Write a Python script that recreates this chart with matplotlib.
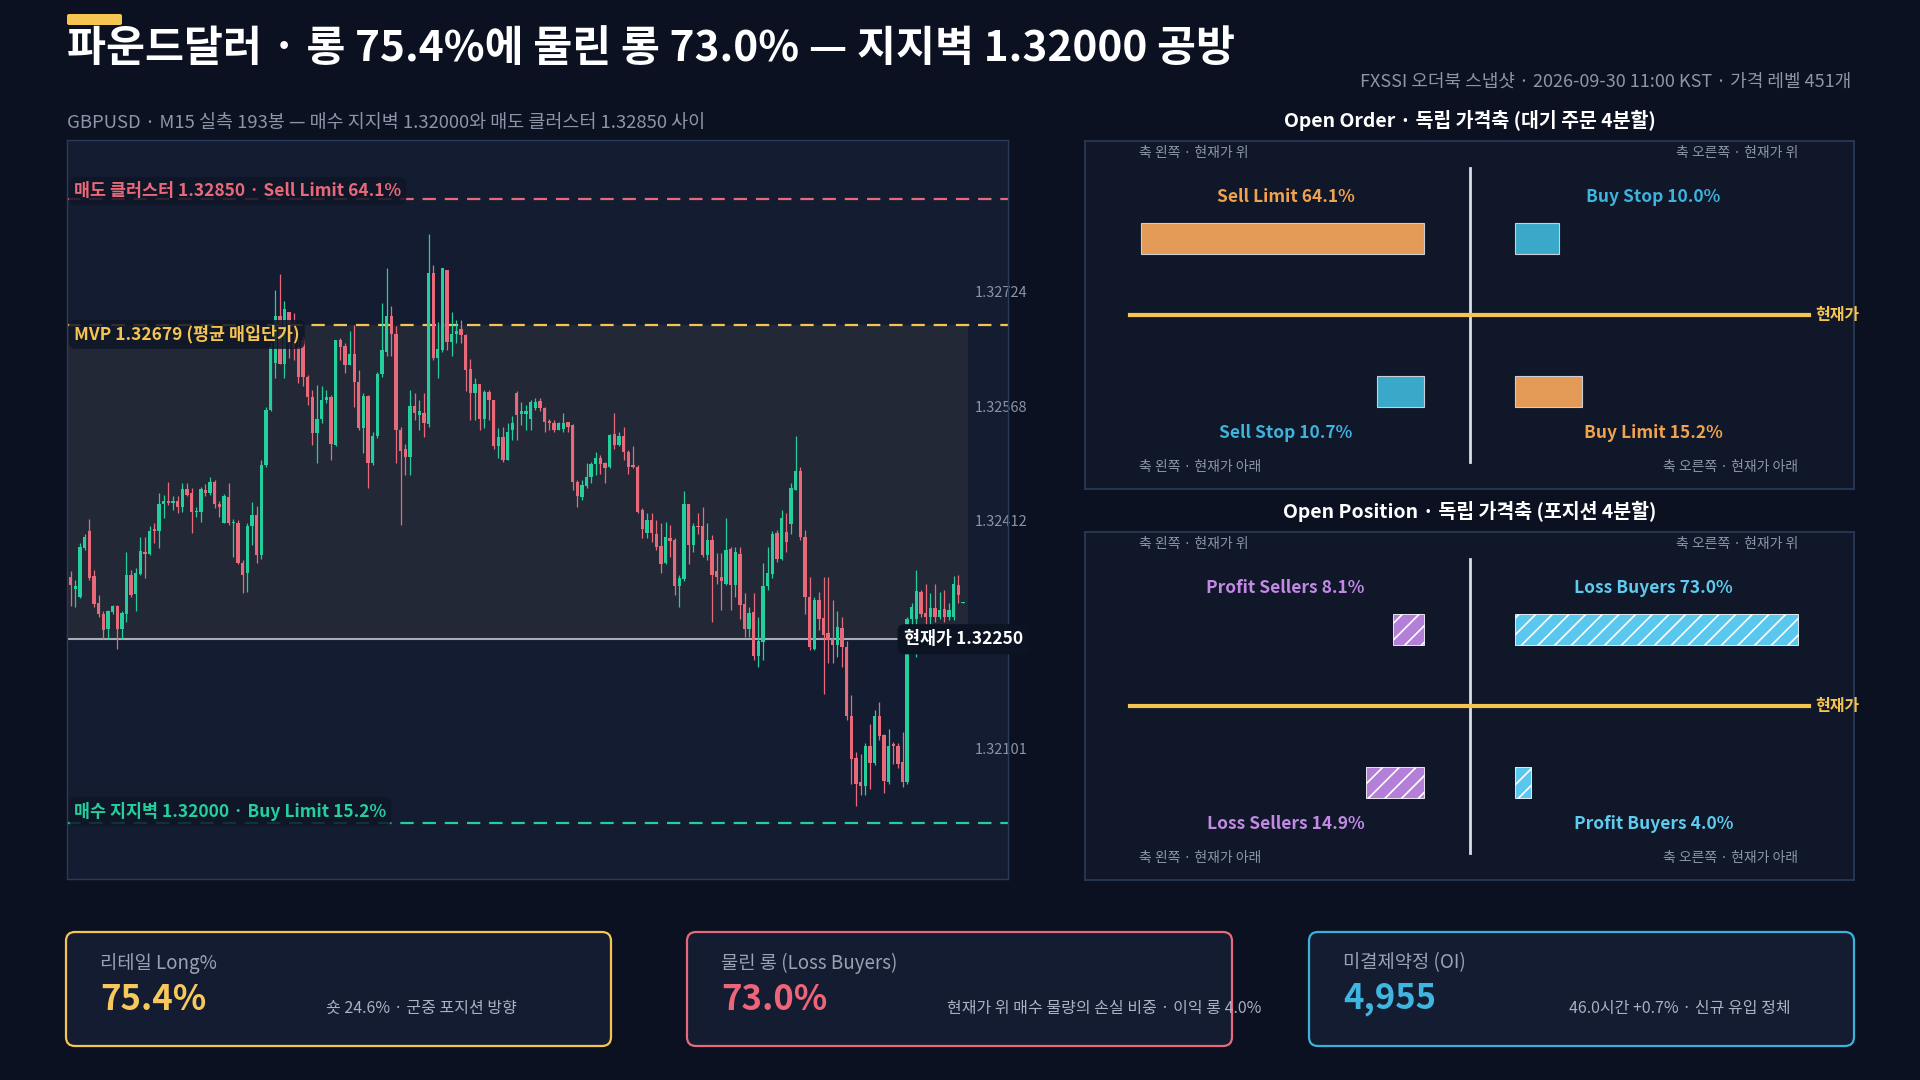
import numpy as np
import matplotlib
matplotlib.use('Agg')
import matplotlib.pyplot as plt
from matplotlib.patches import FancyBboxPatch
from matplotlib.transforms import IdentityTransform, blended_transform_factory

plt.rcParams['font.family'] = ['Noto Sans CJK KR', 'DejaVu Sans']
plt.rcParams['hatch.linewidth'] = 1.2
plt.rcParams['axes.unicode_minus'] = False

# ---- 데이터 (가격은 1.32000 기준 포인트 단위, 1pt = 0.00001) ----
BASE = 1.32
opens_pt = [
    335, 318, 308, 375, 398, 336, 299, 284, 264, 287,
    295, 264, 284, 338, 312, 339, 369, 366, 400, 397,
    435, 439, 436, 438, 430, 455, 449, 423, 423, 453,
    450, 465, 434, 409, 444, 408, 409, 354, 340, 404,
    419, 365, 488, 563, 627, 691, 626, 697, 654, 649,
    658, 608, 581, 532, 550, 577, 581, 515, 658, 650,
    624, 639, 601, 538, 582, 490, 527, 612, 642, 691,
    667, 536, 510, 498, 568, 556, 559, 544, 749, 633,
    645, 753, 656, 667, 673, 665, 619, 586, 598, 550,
    587, 577, 513, 526, 495, 535, 586, 557, 557, 550,
    566, 575, 565, 548, 545, 536, 537, 546, 542, 465,
    444, 459, 472, 489, 497, 490, 485, 530, 515, 527,
    505, 488, 485, 426, 395, 413, 394, 377, 354, 388,
    385, 322, 332, 434, 378, 404, 404, 365, 386, 343,
    335, 326, 373, 324, 366, 298, 264, 287, 227, 246,
    322, 339, 395, 360, 396, 407, 454, 479, 389, 308,
    237, 303, 279, 258, 250, 242, 266, 240, 146, 88,
    55, 50, 105, 81, 146, 119, 55, 107, 105, 82,
    55, 278, 278, 314, 286, 280, 293, 281, 291, 280,
    280, 324, 299]
highs_pt = [
    343, 331, 381, 394, 414, 345, 310, 288, 290, 297,
    297, 288, 369, 344, 347, 389, 390, 404, 409, 449,
    447, 464, 445, 445, 463, 463, 456, 431, 458, 462,
    472, 467, 438, 448, 463, 414, 413, 358, 408, 437,
    432, 495, 567, 654, 727, 748, 711, 697, 695, 658,
    663, 611, 590, 597, 595, 590, 583, 658, 661, 654,
    671, 679, 617, 586, 583, 533, 615, 709, 757, 705,
    677, 540, 517, 590, 586, 576, 586, 803, 761, 683,
    756, 754, 697, 686, 686, 667, 632, 606, 590, 590,
    590, 577, 538, 540, 545, 554, 588, 574, 570, 577,
    579, 579, 567, 551, 549, 547, 558, 547, 544, 467,
    467, 490, 492, 506, 501, 492, 530, 558, 533, 540,
    508, 513, 488, 429, 422, 422, 413, 408, 410, 406,
    388, 338, 452, 435, 408, 422, 431, 408, 392, 367,
    367, 415, 376, 376, 376, 313, 294, 313, 281, 354,
    376, 397, 399, 426, 422, 463, 527, 485, 399, 335,
    308, 315, 335, 335, 303, 288, 281, 247, 174, 96,
    94, 108, 135, 153, 165, 121, 128, 110, 108, 124,
    281, 299, 344, 317, 326, 313, 326, 315, 317, 299,
    336, 338, 301]
lows_pt = [
    295, 294, 306, 372, 331, 294, 281, 250, 251, 285,
    237, 251, 274, 308, 289, 338, 334, 365, 381, 374,
    416, 433, 426, 422, 424, 445, 395, 417, 410, 445,
    447, 429, 417, 408, 406, 362, 353, 313, 315, 379,
    354, 360, 485, 561, 606, 626, 606, 633, 631, 599,
    595, 570, 515, 490, 545, 572, 495, 514, 631, 613,
    624, 567, 535, 504, 456, 488, 524, 608, 636, 636,
    490, 406, 474, 474, 549, 535, 526, 540, 631, 606,
    642, 645, 636, 654, 654, 588, 549, 549, 535, 538,
    549, 509, 497, 492, 494, 522, 522, 542, 535, 535,
    563, 561, 533, 535, 533, 535, 533, 533, 454, 430,
    440, 457, 463, 474, 476, 463, 483, 510, 513, 495,
    476, 484, 422, 388, 388, 383, 372, 340, 353, 362,
    310, 294, 329, 353, 369, 394, 362, 358, 274, 326,
    290, 324, 290, 308, 278, 253, 253, 222, 212, 222,
    317, 333, 356, 358, 369, 394, 454, 385, 285, 235,
    235, 262, 176, 217, 217, 226, 212, 140, 53, 22,
    37, 37, 46, 78, 112, 40, 53, 80, 74, 49,
    53, 253, 226, 281, 253, 247, 274, 278, 274, 276,
    276, 299, 299]
closes_pt = [
    324, 323, 376, 389, 334, 298, 284, 263, 288, 295,
    264, 286, 338, 310, 340, 370, 366, 398, 397, 434,
    438, 436, 439, 430, 455, 447, 423, 425, 455, 449,
    465, 434, 431, 446, 408, 410, 354, 338, 405, 419,
    365, 488, 563, 649, 691, 626, 700, 654, 647, 608,
    608, 581, 532, 550, 577, 581, 517, 658, 648, 624,
    639, 601, 538, 582, 490, 527, 612, 644, 691, 667,
    535, 507, 499, 568, 559, 562, 545, 749, 633, 646,
    756, 656, 667, 670, 665, 617, 586, 598, 550, 587,
    577, 513, 526, 495, 533, 545, 556, 561, 561, 573,
    574, 565, 547, 545, 535, 545, 545, 540, 464, 445,
    460, 472, 489, 497, 489, 483, 529, 515, 527, 505,
    485, 485, 424, 400, 413, 395, 376, 353, 389, 384,
    323, 334, 434, 378, 404, 403, 365, 385, 338, 335,
    329, 372, 324, 369, 297, 264, 286, 227, 247, 323,
    340, 394, 359, 415, 383, 456, 479, 389, 307, 240,
    303, 277, 256, 249, 242, 267, 239, 145, 87, 53,
    50, 104, 81, 146, 118, 57, 105, 104, 80, 55,
    278, 294, 316, 284, 280, 293, 280, 290, 280, 290,
    325, 310, 301]

sell_cluster = 1.32850
mvp = 1.32679
current_price = 1.32250
buy_wall = 1.32000
price_ticks = [1.32101, 1.32412, 1.32568, 1.32724]

order_labels = ['Sell Limit', 'Buy Stop', 'Sell Stop', 'Buy Limit']
order_values = [64.1, 10.0, 10.7, 15.2]
position_labels = ['Profit Sellers', 'Loss Buyers', 'Loss Sellers', 'Profit Buyers']
position_values = [8.1, 73.0, 14.9, 4.0]
corner_labels = ['축 왼쪽 · 현재가 위', '축 오른쪽 · 현재가 위',
                 '축 왼쪽 · 현재가 아래', '축 오른쪽 · 현재가 아래']

card_titles = ['리테일 Long%', '물린 롱 (Loss Buyers)', '미결제약정 (OI)']
card_values = ['75.4%', '73.0%', '4,955']
card_notes = ['숏 24.6% · 군중 포지션 방향',
              '현재가 위 매수 물량의 손실 비중 · 이익 롱 4.0%',
              '46.0시간 +0.7% · 신규 유입 정체']

# ---- 색상 ----
BG = '#0b1120'
AX_BG = '#131c31'
SHADE = '#222836'
PANEL_BG = '#0f1729'
BORDER = '#2a3a5a'
GREEN = '#25cf9d'
RED = '#e8697a'
YELLOW = '#f5c451'
ORANGE_BAR, ORANGE_TXT = '#e39a57', '#f0a24e'
TEAL_BAR, TEAL_TXT = '#3aa9c9', '#3db3dd'
PURPLE_BAR, PURPLE_TXT = '#b47fd8', '#c489e6'
SKY_BAR, SKY_TXT = '#5ac8ee', '#5fcbf0'

W, H = 1920, 1080
fig = plt.figure(figsize=(19.2, 10.8), dpi=100)
fig.patch.set_facecolor(BG)


def fx(x):
    return x / W


def fy(y):
    return 1 - y / H


# ---- 제목 ----
fig.add_artist(FancyBboxPatch((67, H - 25), 55, 11, boxstyle='round,pad=0,rounding_size=2',
                              transform=IdentityTransform(), fc=YELLOW, ec='none'))
fig.text(fx(67), fy(49), '파운드달러 · 롱 75.4%에 물린 롱 73.0% — 지지벽 1.32000 공방',
         color='white', fontsize=30.5, fontweight='bold', va='center', ha='left')
fig.text(fx(1851), fy(82), 'FXSSI 오더북 스냅샷 · 2026-09-30 11:00 KST · 가격 레벨 451개',
         color='#8d95a8', fontsize=13, va='center', ha='right')
fig.text(fx(67), fy(123), 'GBPUSD · M15 실측 193봉 — 매수 지지벽 1.32000와 매도 클러스터 1.32850 사이',
         color='#8d95a8', fontsize=13.3, va='center', ha='left')

# ---- 캔들 차트 ----
ax = fig.add_axes([fx(67), fy(879), 941 / W, 739 / H])
ax.set_facecolor(AX_BG)
o = BASE + np.array(opens_pt) / 1e5
h = BASE + np.array(highs_pt) / 1e5
l = BASE + np.array(lows_pt) / 1e5
c = BASE + np.array(closes_pt) / 1e5
n = len(c)
x = np.arange(n)
cols = np.where(c >= o, GREEN, RED)

ax.fill_between([-0.8, n], current_price, mvp, color=SHADE, lw=0, zorder=0)
ax.vlines(x, l, h, colors=cols, lw=0.9, zorder=2)
ax.bar(x, np.maximum(np.abs(c - o), 0.000005), bottom=np.minimum(o, c), width=0.72,
       color=cols, lw=0, zorder=2)

ax.axhline(sell_cluster, color=RED, lw=1.6, ls=(0, (6, 4)), zorder=1.5)
ax.axhline(mvp, color=YELLOW, lw=1.6, ls=(0, (6, 4)), zorder=1.5)
ax.axhline(buy_wall, color=GREEN, lw=1.6, ls=(0, (6, 4)), zorder=1.5)
ax.axhline(current_price, color='#a9adb6', lw=1.5, zorder=1.5)

ax.set_xlim(-0.8, 201.7)
ax.set_ylim(1.31923, 1.32931)
ax.set_xticks([])
ax.yaxis.tick_right()
ax.set_yticks(price_ticks)
ax.set_yticklabels([f'{t:.5f}' for t in price_ticks])
ax.tick_params(axis='y', length=0, pad=-23.8, labelsize=10.5, labelcolor='#8b93a7')
for s in ax.spines.values():
    s.set_color(BORDER)
    s.set_linewidth(1)

tr = blended_transform_factory(ax.transAxes, ax.transData)
box = dict(boxstyle='round,pad=0.3,rounding_size=0.4', fc='#0f1626', ec='none', alpha=0.85)
ax.annotate('매도 클러스터 1.32850 · Sell Limit 64.1%', xy=(0.0074, sell_cluster), xycoords=tr,
            xytext=(0, 6), textcoords='offset points', va='center', ha='left',
            color=RED, fontsize=12.5, fontweight='bold', bbox=box, zorder=4)
ax.annotate('MVP 1.32679 (평균 매입단가)', xy=(0.0074, mvp), xycoords=tr,
            xytext=(0, -7), textcoords='offset points', va='center', ha='left',
            color=YELLOW, fontsize=12.5, fontweight='bold', bbox=box, zorder=4)
ax.annotate('매수 지지벽 1.32000 · Buy Limit 15.2%', xy=(0.0074, buy_wall), xycoords=tr,
            xytext=(0, 8), textcoords='offset points', va='center', ha='left',
            color=GREEN, fontsize=12.5, fontweight='bold', bbox=box, zorder=4)
ax.text(0.889, current_price, '현재가 1.32250', transform=tr, va='center', ha='left',
        color='white', fontsize=12.5, fontweight='bold', zorder=5,
        bbox=dict(boxstyle='round,pad=0.35,rounding_size=0.4', fc='#0c1322', ec='none'))

# ---- 4분할 패널 ----
GAP = 0.1608
HALF = 1.3587


def quad_panel(top, title, labels, values, bar_cols, txt_cols, hatch):
    pax = fig.add_axes([fx(1085), fy(top + 348), 769 / W, 348 / H])
    pax.set_facecolor(PANEL_BG)
    pax.set_xlim(-HALF, HALF)
    pax.set_ylim(0, 1)
    pax.set_xticks([])
    pax.set_yticks([])
    for s in pax.spines.values():
        s.set_color(BORDER)
        s.set_linewidth(1.2)
    fig.text(fx(1469.5), fy(top - 21), title, color='white', fontsize=14,
             fontweight='bold', ha='center', va='center')
    pax.plot([0, 0], [0.077, 0.921], color='#d9dde5', lw=2, zorder=2)
    pax.plot([-1.2, 1.2], [0.5, 0.5], color=YELLOW, lw=3, zorder=3)
    pax.text(1.221, 0.5, '현재가', color=YELLOW, fontsize=11.5, fontweight='bold',
             ha='left', va='center')
    vmax = max(values)
    sides = [-1, 1, -1, 1]
    bar_y = [0.72, 0.72, 0.28, 0.28]
    lab_y = [0.839, 0.839, 0.161, 0.161]
    for lab, v, sd, by, ly, bc, tc in zip(labels, values, sides, bar_y, lab_y, bar_cols, txt_cols):
        w = v / vmax
        left = GAP if sd > 0 else -GAP - w
        if hatch:
            pax.barh(by, w, left=left, height=0.09, color=bc, edgecolor='white',
                     lw=0.6, hatch=hatch, zorder=2)
        else:
            pax.barh(by, w, left=left, height=0.09, color=bc, edgecolor='#c9ced8',
                     lw=0.8, zorder=2)
        pax.text(sd * 0.65, ly, f'{lab} {v:.1f}%', color=tc, fontsize=12.5,
                 fontweight='bold', ha='center', va='center')
    corner_x = [-1.168, 1.161, -1.168, 1.161]
    corner_y = [0.965, 0.965, 0.064, 0.064]
    for txt, cx, cy in zip(corner_labels, corner_x, corner_y):
        pax.text(cx, cy, txt, color='#8d95a8', fontsize=10,
                 ha='left' if cx < 0 else 'right', va='center')


quad_panel(141, 'Open Order · 독립 가격축 (대기 주문 4분할)', order_labels, order_values,
           [ORANGE_BAR, TEAL_BAR, TEAL_BAR, ORANGE_BAR],
           [ORANGE_TXT, TEAL_TXT, TEAL_TXT, ORANGE_TXT], None)
quad_panel(532, 'Open Position · 독립 가격축 (포지션 4분할)', position_labels, position_values,
           [PURPLE_BAR, SKY_BAR, PURPLE_BAR, SKY_BAR],
           [PURPLE_TXT, SKY_TXT, PURPLE_TXT, SKY_TXT], '//')

# ---- 하단 카드 ----
card_x = [66, 687, 1309]
card_edge = [YELLOW, RED, '#3ab2d9']
card_val_col = ['#f7c95c', '#ee6478', '#3fb6e0']
for cx, t, v, nt, ec, vc in zip(card_x, card_titles, card_values, card_notes, card_edge, card_val_col):
    fig.add_artist(FancyBboxPatch((cx, H - 1046), 545, 114,
                                  boxstyle='round,pad=0,rounding_size=9',
                                  transform=IdentityTransform(), fc='#131c31', ec=ec, lw=1.6))
    fig.text(fx(cx + 34), fy(963), t, color='#9aa3b5', fontsize=13.5, ha='left', va='center')
    fig.text(fx(cx + 34), fy(999), v, color=vc, fontsize=25, fontweight='bold',
             ha='left', va='center')
    fig.text(fx(cx + 260), fy(1008), nt, color='#a9b1c2', fontsize=11.5, ha='left', va='center')

fig.savefig('out.png', dpi=100, facecolor=BG)
